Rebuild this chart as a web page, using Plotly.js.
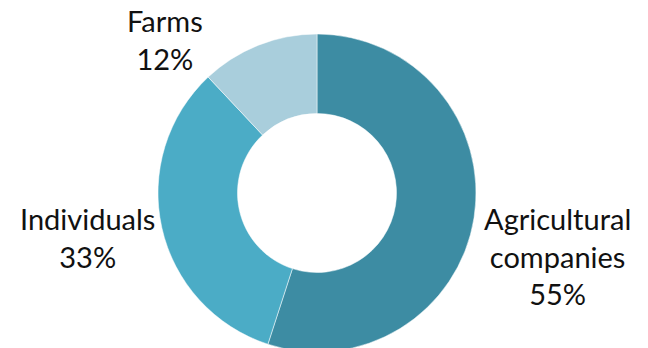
<!DOCTYPE html>
<html>
<head>
<meta charset="utf-8">
<script src="https://cdn.plot.ly/plotly-3.0.1.min.js"></script>
<style>
html,body{margin:0;padding:0;overflow:hidden;background:#fff;width:648px;height:348px;}
#chart{width:648px;height:360px;}
</style>
</head>
<body>
<div id="chart"></div>
<script>
const categories = ["Agricultural companies", "Individuals", "Farms"];
const displayLabels = ["Agricultural<br>companies", "Individuals", "Farms"];
const shares = [55, 33, 12];
const colors = ["#3D8CA3", "#4BACC6", "#A9CEDC"];

const W = 648, H = 360;
// label block centres in pixels (layout only)
const labelPos = [[557, 256], [87, 237], [165, 39]];

const annotations = categories.map((c, i) => ({
  text: displayLabels[i] + "<br>" + shares[i] + "%",
  xref: "paper", yref: "paper",
  x: labelPos[i][0] / W, y: 1 - labelPos[i][1] / H,
  xanchor: "center", yanchor: "middle",
  showarrow: false, align: "center",
  font: {family: "Lato, 'Liberation Sans', sans-serif", size: 29, color: "#111111"}
}));

const trace = {
  type: "pie",
  labels: categories,
  values: shares,
  sort: false,
  direction: "clockwise",
  rotation: 0,
  hole: 0.5,
  textinfo: "none",
  hoverinfo: "label+percent",
  marker: {colors: colors, line: {color: "#ffffff", width: 0.5}},
  domain: {x: [158 / W, 476 / W], y: [1 - 352 / H, 1 - 34 / H]},
  showlegend: false
};

Plotly.newPlot("chart", [trace], {
  width: W, height: H,
  margin: {l: 0, r: 0, t: 0, b: 0},
  paper_bgcolor: "#ffffff",
  plot_bgcolor: "#ffffff",
  showlegend: false,
  annotations: annotations
}, {displayModeBar: false, staticPlot: true});
</script>
</body>
</html>
